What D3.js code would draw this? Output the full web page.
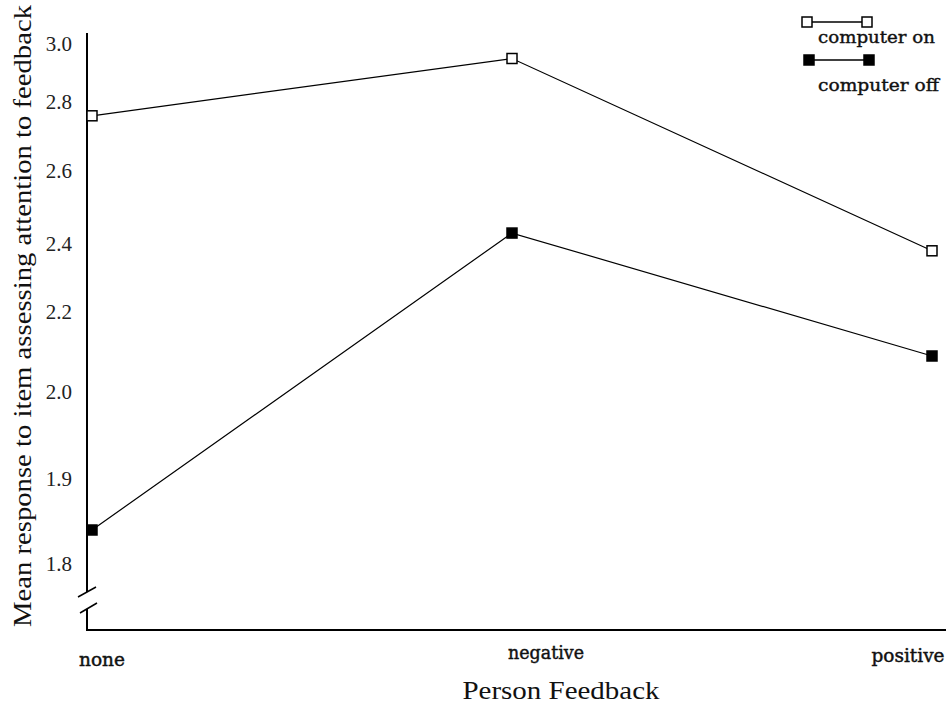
<!DOCTYPE html>
<html>
<head>
<meta charset="utf-8">
<script src="https://cdn.jsdelivr.net/npm/d3@7"></script>
<style>
  html, body { margin: 0; padding: 0; background: #fff; }
  svg { display: block; }
</style>
</head>
<body>
<svg id="chart" width="946" height="704"></svg>
<script>
// Feedback conditions on the x axis
const categories = ["none", "negative", "positive"];
// Mean response per condition
const computerOn  = [2.76, 2.95, 2.38];
const computerOff = [1.84, 2.43, 2.09];
// Tick values printed on the (unevenly spaced) y axis
const yTickValues = [1.8, 1.9, 2.0, 2.2, 2.4, 2.6, 2.8, 3.0];
const yTickLabels = ["1.8", "1.9", "2.0", "2.2", "2.4", "2.6", "2.8", "3.0"];
const seriesNames = ["computer on", "computer off"];

const svg = d3.select("#chart");
const serif = "'Liberation Serif', 'Times New Roman', serif";
const slab = "'DejaVu Serif', serif";

// Layout
const axisX = 87, axisTop = 33, axisBottom = 630, axisRight = 946;
// The printed axis is hand-spaced, so the scale is piecewise linear through each tick row
const tickRows = [564, 479, 392, 312, 244, 171, 102, 44];

const x = d3.scalePoint().domain(categories).range([92, 932]);
const y = d3.scaleLinear().domain(yTickValues).range(tickRows);

// Y axis line with a break near the bottom
const g = svg.append("g").attr("stroke", "#000").attr("fill", "none");
g.append("line").attr("x1", axisX).attr("x2", axisX).attr("y1", axisTop).attr("y2", 592).attr("stroke-width", 2);
g.append("line").attr("x1", 78).attr("y1", 597).attr("x2", 96).attr("y2", 587).attr("stroke-width", 1.5);
g.append("line").attr("x1", 80).attr("y1", 613).attr("x2", 97).attr("y2", 603).attr("stroke-width", 1.5);
g.append("line").attr("x1", axisX).attr("x2", axisX).attr("y1", 609).attr("y2", axisBottom + 1).attr("stroke-width", 2);
// X axis line
g.append("line").attr("x1", axisX - 1).attr("x2", axisRight).attr("y1", axisBottom).attr("y2", axisBottom).attr("stroke-width", 2);

// Y tick labels (no tick marks)
svg.append("g").selectAll("text").data(yTickValues).join("text")
  .attr("x", 72).attr("y", d => y(d))
  .attr("dy", "0.35em")
  .attr("text-anchor", "end")
  .attr("font-family", serif).attr("font-size", 21).attr("fill", "#222")
  .text((d, i) => yTickLabels[i]);

// Category labels under the x axis
const catPlace = { none: [10, 660, 46], negative: [34, 653, 76], positive: [-24, 656, 73] };
svg.append("g").selectAll("text").data(categories).join("text")
  .attr("x", d => x(d) + catPlace[d][0]).attr("y", d => catPlace[d][1])
  .attr("dy", "0.35em")
  .attr("text-anchor", "middle")
  .attr("font-family", slab).attr("font-size", 18).attr("fill", "#111")
  .attr("stroke", "#111").attr("stroke-width", 0.45)
  .attr("textLength", d => catPlace[d][2]).attr("lengthAdjust", "spacingAndGlyphs")
  .text(d => d);

// Axis titles
svg.append("text")
  .attr("x", 561).attr("y", 690).attr("dy", "0.35em")
  .attr("text-anchor", "middle")
  .attr("font-family", serif).attr("font-size", 25).attr("fill", "#111")
  .attr("textLength", 197).attr("lengthAdjust", "spacingAndGlyphs")
  .text("Person Feedback");

svg.append("text")
  .attr("transform", "translate(22,316) rotate(-90)")
  .attr("dy", "0.35em")
  .attr("text-anchor", "middle")
  .attr("font-family", serif).attr("font-size", 26).attr("fill", "#111")
  .attr("textLength", 622).attr("lengthAdjust", "spacingAndGlyphs")
  .text("Mean response to item assessing attention to feedback");

// Series lines and square markers
const series = [
  { name: seriesNames[0], values: computerOn,  fill: "#fff" },
  { name: seriesNames[1], values: computerOff, fill: "#000" }
];
const line = d3.line().x(d => x(d.cat)).y(d => y(d.v));

series.forEach(s => {
  const pts = categories.map((c, i) => ({ cat: c, v: s.values[i] }));
  svg.append("path").datum(pts)
    .attr("d", line).attr("fill", "none").attr("stroke", "#000").attr("stroke-width", 1.2);
  svg.append("g").selectAll("rect").data(pts).join("rect")
    .attr("x", d => x(d.cat) - 5).attr("y", d => y(d.v) - 5)
    .attr("width", 10).attr("height", 10)
    .attr("fill", s.fill).attr("stroke", "#000").attr("stroke-width", 1.5);
});

// Legend
const legendRows = [
  { sx: [807, 867], sy: 22, ty: 37 },
  { sx: [809, 869], sy: 60, ty: 85 }
];
series.forEach((s, i) => {
  const r = legendRows[i];
  const lg = svg.append("g");
  lg.append("line").attr("x1", r.sx[0]).attr("x2", r.sx[1]).attr("y1", r.sy).attr("y2", r.sy)
    .attr("stroke", "#000").attr("stroke-width", 1.5);
  lg.selectAll("rect").data(r.sx).join("rect")
    .attr("x", d => d - 5).attr("y", r.sy - 5).attr("width", 10).attr("height", 10)
    .attr("fill", s.fill).attr("stroke", "#000").attr("stroke-width", 1.5);
  lg.append("text").attr("x", 818).attr("y", r.ty).attr("dy", "0.35em")
    .attr("font-family", slab).attr("font-size", 17).attr("fill", "#111")
    .attr("stroke", "#111").attr("stroke-width", 0.4)
    .attr("textLength", i === 0 ? 117 : 121).attr("lengthAdjust", "spacingAndGlyphs")
    .text(s.name);
});
</script>
</body>
</html>
